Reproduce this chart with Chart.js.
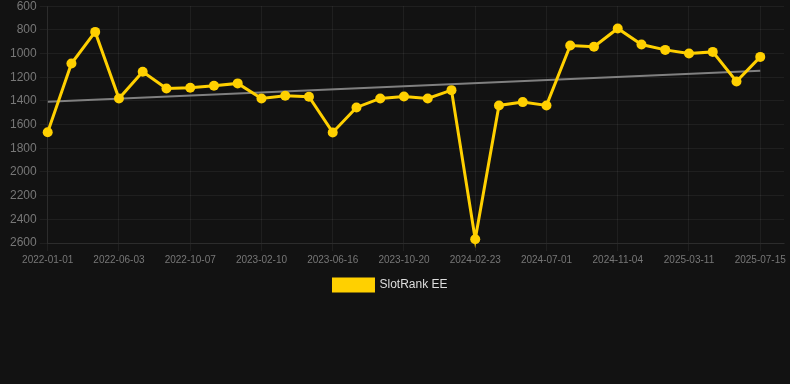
<!DOCTYPE html>
<html>
<head>
<meta charset="utf-8">
<script src="https://cdn.jsdelivr.net/npm/chart.js@4"></script>
<style>
    html, body { margin: 0; padding: 0; background: #121212; overflow: hidden; }
    #wrap { width: 790px; height: 305px; position: relative; margin-top: -4px; }
</style>
</head>
<body>
<div id="wrap"><canvas id="rank-chart"></canvas></div>
<script>
const DATES = [
    '2022-01-01', '2022-03-11', '2022-04-22', '2022-06-03', '2022-07-15', '2022-08-26',
    '2022-10-07', '2022-11-18', '2022-12-30', '2023-02-10', '2023-03-24', '2023-05-05',
    '2023-06-16', '2023-07-28', '2023-09-08', '2023-10-20', '2023-12-01', '2024-01-12',
    '2024-02-23', '2024-04-05', '2024-05-17', '2024-07-01', '2024-08-12', '2024-09-23',
    '2024-11-04', '2024-12-16', '2025-01-27', '2025-03-11', '2025-04-22', '2025-06-03',
    '2025-07-15',
];

const RANK = [
    1665, 1084, 817, 1380, 1154, 1295, 1289, 1272, 1252, 1380, 1357,
    1365, 1666, 1455, 1379, 1362, 1379, 1309, 2569, 1438, 1410, 1438,
    932, 943, 788, 924, 969, 1000, 986, 1236, 1028,
];

// tendencia: valor al inicio y al final
const TREND = [1408, 1146];

const Y_TICKS = [600, 800, 1000, 1200, 1400, 1600, 1800, 2000, 2200, 2400, 2600];

const YELLOW = '#ffd000';
const TICK_COLOR = '#777777';
const GRID_COLOR = 'rgba(255, 255, 255, 0.06)';
const FONT = 'Arial, "Liberation Sans", Helvetica, sans-serif';

// la leyenda va algo a la izquierda del centro
const legendShift = {
    id: 'legendShift',
    afterLayout(chart) {
        chart.legend.left -= 8;
        chart.legend.right -= 8;
    }
};

new Chart(document.getElementById('rank-chart'), {
    type: 'line',
    data: {
        datasets: [
            {
                label: 'SlotRank EE',
                data: RANK.map((v, i) => ({ x: i, y: v })),
                borderColor: YELLOW,
                backgroundColor: YELLOW,
                borderWidth: 3,
                pointRadius: 5,
                pointBorderWidth: 0,
                pointHoverRadius: 6,
                pointBackgroundColor: YELLOW,
                tension: 0,
                clip: false,
            },
            {
                label: 'trend',
                data: [{ x: 0, y: TREND[0] }, { x: RANK.length - 1, y: TREND[1] }],
                borderColor: '#808080',
                borderWidth: 2,
                pointRadius: 0,
                pointHoverRadius: 0,
            },
        ]
    },
    plugins: [legendShift],
    options: {
        responsive: true,
        maintainAspectRatio: false,
        animation: false,
        layout: { padding: { left: 7, top: 0, right: 0 } },
        plugins: {
            legend: {
                position: 'bottom',
                labels: {
                    color: '#dddddd',
                    font: { size: 12, family: FONT },
                    filter: item => item.text !== 'trend',
                }
            },
            tooltip: { enabled: false },
        },
        scales: {
            x: {
                type: 'linear',
                min: 0,
                max: 31,
                grid: { color: GRID_COLOR },
                border: { color: GRID_COLOR },
                afterBuildTicks: scale => {
                    scale.ticks = DATES.map((d, i) => ({ value: i })).filter(t => t.value % 3 === 0);
                },
                afterFit: scale => {
                    scale.paddingLeft = 0;
                    scale.paddingRight = 0;
                },
                ticks: {
                    color: TICK_COLOR,
                    autoSkip: false,
                    maxRotation: 0,
                    font: { size: 10, family: FONT },
                    callback: v => DATES[v] ?? '',
                }
            },
            y: {
                reverse: true,
                min: Y_TICKS[0],
                max: Y_TICKS[Y_TICKS.length - 1],
                grid: { color: GRID_COLOR },
                border: { color: GRID_COLOR },
                afterBuildTicks: scale => {
                    scale.ticks = Y_TICKS.map(v => ({ value: v }));
                },
                ticks: {
                    color: TICK_COLOR,
                    font: { size: 12, family: FONT },
                    callback: v => String(v),
                }
            }
        }
    }
});
</script>
</body>
</html>
